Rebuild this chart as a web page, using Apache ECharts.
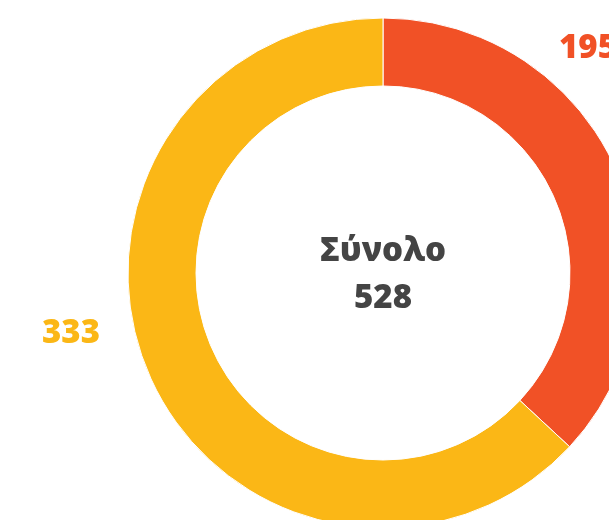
<!DOCTYPE html>
<html>
<head>
<meta charset="utf-8">
<script src="https://cdn.jsdelivr.net/npm/echarts@6/dist/echarts.min.js"></script>
<style>
  html, body { margin: 0; padding: 0; background: #ffffff; }
  #chart { width: 609px; height: 520px; }
</style>
</head>
<body>
<div id="chart"></div>
<script>
// Slice data
var categories = ['A', 'B'];
var values = [195, 333];
var colors = ['#F15126', '#FBB716'];
var totalLabel = 'Σύνολο';

// Where each value label sits (pixel anchors for the outside labels)
var labelAnchors = [
  { x: 588, y: 49, align: 'center' },
  { x: 71, y: 334, align: 'center' }
];

var total = values.reduce(function (a, b) { return a + b; }, 0);
var fontFamily = '"Open Sans", "Noto Sans", sans-serif';

var chart = echarts.init(document.getElementById('chart'), null, { renderer: 'canvas' });

chart.setOption({
  backgroundColor: '#ffffff',
  animation: false,
  series: [{
    type: 'pie',
    center: [383, 273],
    radius: [187, 255],
    startAngle: 90,
    clockwise: true,
    avoidLabelOverlap: false,
    itemStyle: { borderColor: '#ffffff', borderWidth: 1 },
    label: {
      show: true,
      position: 'outside',
      formatter: '{c}',
      fontFamily: fontFamily,
      fontWeight: 800,
      fontSize: 33
    },
    labelLine: { show: false },
    labelLayout: function (params) {
      var a = labelAnchors[params.dataIndex];
      return { x: a.x, y: a.y, align: a.align, verticalAlign: 'middle' };
    },
    emphasis: { disabled: true },
    data: categories.map(function (c, i) {
      return {
        name: c,
        value: values[i],
        itemStyle: { color: colors[i] },
        label: { color: colors[i] }
      };
    })
  }],
  graphic: [{
    type: 'text',
    x: 383,
    y: 275,
    style: {
      text: totalLabel + '\n' + total,
      fill: '#444444',
      font: '800 33px ' + fontFamily,
      lineHeight: 47,
      align: 'center',
      verticalAlign: 'middle'
    }
  }]
});
</script>
</body>
</html>
